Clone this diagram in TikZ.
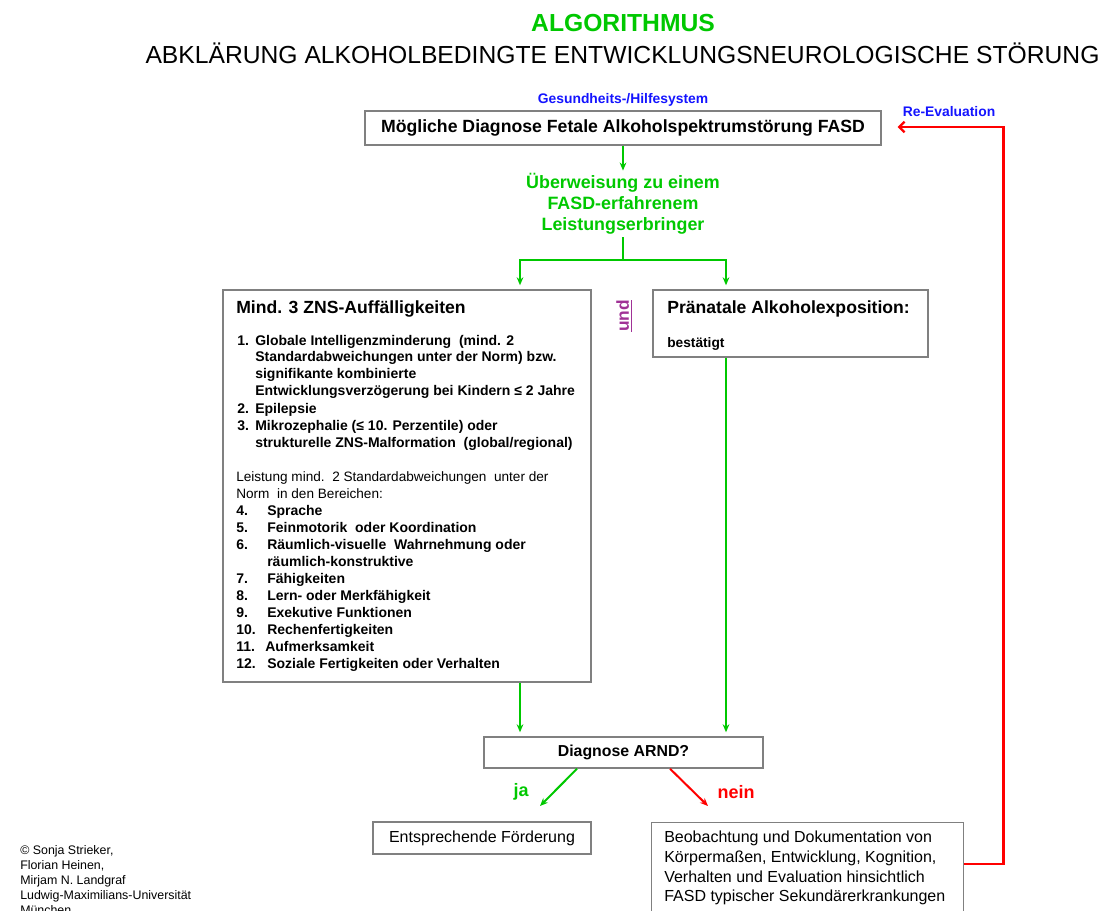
\documentclass[tikz,border=0pt]{standalone}
\usepackage{fontspec}
\setmainfont{Liberation Sans}
\usetikzlibrary{arrows.meta,calc}
\definecolor{fgreen}{RGB}{0,200,0}
\definecolor{fred}{RGB}{255,0,0}
\definecolor{fblue}{RGB}{20,20,255}
\definecolor{fpurple}{RGB}{160,50,150}
\definecolor{fgray}{RGB}{128,128,128}
\begin{document}
\begin{tikzpicture}[x=0.75pt,y=-0.75pt,
  box/.style={draw=fgray, line width=1.1pt, fill=white, inner sep=0pt},
  ln/.style={anchor=base west, inner sep=0pt},
  itemfont/.style={font=\bfseries\fontsize{10.5}{12}\selectfont},
  plainfont/.style={font=\fontsize{10.2}{12}\selectfont},
  headfont/.style={font=\bfseries\fontsize{13.2}{15}\selectfont},
  bluefont/.style={font=\bfseries\fontsize{10.4}{12}\selectfont, text=fblue},
  garrow/.style={draw=fgreen, line width=1.5pt, -{Stealth[length=6pt,width=5pt]}},
  gline/.style={draw=fgreen, line width=1.5pt},
  rarrow/.style={draw=fred, line width=1.5pt, -{Stealth[length=6pt,width=5pt]}},
  rback/.style={draw=fred, line width=1.6pt, -{Straight Barb[length=4pt,width=8pt]}},
  brfont/.style={font=\fontsize{12}{14}\selectfont},
  cfont/.style={font=\fontsize{9.3}{11}\selectfont}
]
\useasboundingbox (0,0) rectangle (1102,910);

% titles
\node[font=\bfseries\fontsize{18.5}{20}\selectfont, text=fgreen] (t1) at (623,23) {ALGORITHMUS};
\node[font=\fontsize{18.5}{20}\selectfont] (t2) at (622.5,53) {ABKLÄRUNG ALKOHOLBEDINGTE ENTWICKLUNGSNEUROLOGISCHE STÖRUNG};

\node[bluefont] (ges) at (623,100) {Gesundheits-/Hilfesystem};
\node[bluefont] (re) at (949,112) {Re-Evaluation};

% box 1
\node[box, minimum width=387pt, minimum height=25.5pt, font=\bfseries\fontsize{13.25}{15}\selectfont] (b1) at (623,128) {Mögliche Diagnose Fetale Alkoholspektrumstörung FASD};

% referral text
\node[align=center, text=fgreen, font=\bfseries\fontsize{13.4}{15.75}\selectfont, inner sep=2pt] (uew) at (623,204) {Überweisung zu einem\\FASD-erfahrenem\\Leistungserbringer};

% left box
\node[box, minimum width=276pt, minimum height=294pt] (lb) at (407,486) {};
% right box
\node[box, minimum width=206.25pt, minimum height=50.25pt] (rb) at (790.5,323.5) {};

\coordinate (fork) at (623,260);
\draw[garrow] (b1.south) -- (uew.north);
\draw[gline] (uew.south) -- (fork);
\draw[garrow, shorten >=3pt] (fork) -| ($(lb.north)+(113,0)$);
\draw[garrow, shorten >=3pt] (fork) -| ($(rb.north)+(-64.5,0)$);

\node[rotate=90, font=\bfseries\fontsize{13}{15}\selectfont, text=fpurple] (und) at (624,316) {\underline{und}};

% left box content
\node[ln, headfont] (lh) at (236,313) {Mind. 3 ZNS-Auffälligkeiten};
\node[ln, itemfont] (n1) at (237,345.5) {1.};
\node[ln, itemfont] (a1) at (255,345.5) {Globale Intelligenzminderung\ \ (mind. 2};
\node[ln, itemfont] (a2) at (255,361.5) {Standardabweichungen unter der Norm) bzw.};
\node[ln, itemfont] (a3) at (255,378.5) {signifikante kombinierte};
\node[ln, itemfont] (a4) at (255,395.5) {Entwicklungsverzögerung bei Kindern ≤ 2 Jahre};
\node[ln, itemfont] (n2) at (237,413.5) {2.};
\node[ln, itemfont] (a5) at (255,413.5) {Epilepsie};
\node[ln, itemfont] (n3) at (237,430.5) {3.};
\node[ln, itemfont] (a6) at (255,430.5) {Mikrozephalie (≤ 10. Perzentile) oder};
\node[ln, itemfont] (a7) at (255,447.5) {strukturelle ZNS-Malformation\ \ (global/regional)};

\node[ln, plainfont] (p1) at (236,481.5) {Leistung mind.\ \ 2 Standardabweichungen\ \ unter der};
\node[ln, plainfont] (p2) at (236,498.5) {Norm\ \ in den Bereichen:};
\node[ln, itemfont] (n4) at (236,515.5) {4.};
\node[ln, itemfont] (b4) at (267,515.5) {Sprache};
\node[ln, itemfont] (n5) at (236,532.5) {5.};
\node[ln, itemfont] (b5) at (267,532.5) {Feinmotorik\ \ oder Koordination};
\node[ln, itemfont] (n6) at (236,549.5) {6.};
\node[ln, itemfont] (b6) at (267,549.5) {Räumlich-visuelle\ \ Wahrnehmung oder};
\node[ln, itemfont] (b6b) at (267,566.5) {räumlich-konstruktive};
\node[ln, itemfont] (n7) at (236,583.5) {7.};
\node[ln, itemfont] (b7) at (267,583.5) {Fähigkeiten};
\node[ln, itemfont] (n8) at (236,600.5) {8.};
\node[ln, itemfont] (b8) at (267,600.5) {Lern- oder Merkfähigkeit};
\node[ln, itemfont] (n9) at (236,617.5) {9.};
\node[ln, itemfont] (b9) at (267,617.5) {Exekutive Funktionen};
\node[ln, itemfont] (n10) at (236,634.5) {10.};
\node[ln, itemfont] (b10) at (267,634.5) {Rechenfertigkeiten};
\node[ln, itemfont] (n11) at (236,651.5) {11.};
\node[ln, itemfont] (b11) at (265,651.5) {Aufmerksamkeit};
\node[ln, itemfont] (n12) at (236,668.5) {12.};
\node[ln, itemfont] (b12) at (267,668.5) {Soziale Fertigkeiten oder Verhalten};

% right box content
\node[ln, headfont] (rh) at (667,313) {Pränatale Alkoholexposition:};
\node[ln, font=\bfseries\fontsize{10.3}{12}\selectfont] (rt) at (667,347) {bestätigt};

% diagnosis
\node[box, minimum width=209.25pt, minimum height=23.25pt, font=\bfseries\fontsize{11.9}{14}\selectfont] (dg) at (623.5,752.5) {Diagnose ARND?};
\draw[garrow, shorten >=3pt] ($(lb.south)+(113,0)$) -- ($(dg.north)+(-103.5,0)$);
\draw[garrow, shorten >=3pt] ($(rb.south)+(-64.5,0)$) -- ($(dg.north)+(102.5,0)$);

\coordinate (jaend) at (540,806);
\coordinate (neinend) at (708,806);
\draw[garrow] ($(dg.south)+(-46.5,0)$) -- (jaend);
\draw[rarrow] ($(dg.south)+(46.5,0)$) -- (neinend);
\node[font=\bfseries\fontsize{13.5}{15}\selectfont, text=fgreen] (ja) at (521,792) {ja};
\node[font=\bfseries\fontsize{13.5}{15}\selectfont, text=fred] (nein) at (736,792) {nein};

% outcome boxes
\node[box, minimum width=163.5pt, minimum height=24pt, brfont] (fo) at (482,838) {Entsprechende Förderung};
\node[box, minimum width=234pt, minimum height=75pt, anchor=north west] (br) at (651,822) {};
\node[ln, brfont] (r1) at (664,842.5) {Beobachtung und Dokumentation von};
\node[ln, brfont] (r2) at (664,862.5) {Körpermaßen, Entwicklung, Kognition,};
\node[ln, brfont] (r3) at (664,882.5) {Verhalten und Evaluation hinsichtlich};
\node[ln, brfont] (r4) at (664,901.5) {FASD typischer Sekundärerkrankungen};

\draw[rback] ($(br.north east)+(0,42)$) -- ++(39,0) |- ($(b1.east)+(16,-1)$);

% copyright
\node[ln, cfont] (c1) at (20,854.5) {© Sonja Strieker,};
\node[ln, cfont] (c2) at (20,869.5) {Florian Heinen,};
\node[ln, cfont] (c3) at (20,884.5) {Mirjam N. Landgraf};
\node[ln, cfont] (c4) at (20,899.5) {Ludwig-Maximilians-Universität};
\node[ln, cfont] (c5) at (20,914.5) {München};
\end{tikzpicture}
\end{document}
